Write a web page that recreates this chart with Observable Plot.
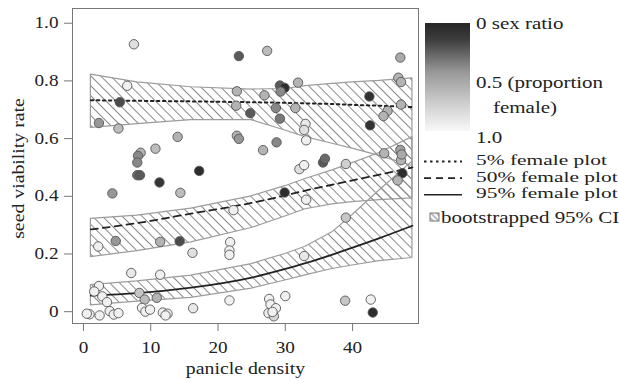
<!DOCTYPE html>
<html><head><meta charset="utf-8">
<script src="https://cdn.jsdelivr.net/npm/d3@7"></script>
<script src="https://cdn.jsdelivr.net/npm/@observablehq/plot@0.6"></script>
<style>
body{margin:0;background:#fff;}
#wrap{position:relative;width:619px;height:383px;overflow:hidden;background:#fff;}
#legend{position:absolute;left:0;top:0;pointer-events:none;}
</style></head><body><div id="wrap"></div>
<script>
// ---- data ----
const density = [7.5,23.1,27.3,47.1,6.5,5.4,2.3,5.2,22.8,22.7,24.8,26.9,29.2,29.9,29.3,28.6,29.2,31.9,31.5,33.0,32.8,33.1,42.5,42.6,45.2,44.6,46.8,47.2,47.2,22.8,23.1,14.0,10.7,8.5,8.1,8.0,8.0,8.4,17.2,11.3,4.3,14.4,26.7,28.7,32.1,32.8,33.1,29.9,35.6,35.9,39.0,44.7,47.1,47.2,47.4,46.7,47.3,2.2,4.8,11.4,14.3,16.2,22.3,21.8,21.7,21.7,32.8,39.0,7.1,11.4,2.3,1.6,2.8,3.5,3.9,0.9,2.4,4.5,5.2,8.3,9.1,8.7,9.2,9.9,10.9,11.8,12.5,12.2,16.3,21.7,27.6,27.8,27.5,28.3,28.6,30.0,38.9,42.7,43.0,0.5,28.1];
const viability = [0.927,0.886,0.904,0.881,0.783,0.726,0.654,0.635,0.764,0.714,0.688,0.750,0.784,0.776,0.763,0.706,0.669,0.794,0.706,0.651,0.630,0.594,0.746,0.646,0.696,0.678,0.811,0.796,0.718,0.610,0.599,0.606,0.565,0.551,0.540,0.517,0.473,0.473,0.488,0.448,0.410,0.412,0.560,0.587,0.494,0.508,0.388,0.413,0.517,0.530,0.512,0.549,0.561,0.525,0.480,0.455,0.545,0.226,0.245,0.242,0.244,0.204,0.352,0.241,0.212,0.197,0.193,0.326,0.134,0.128,0.089,0.070,0.053,0.033,0.002,-0.009,-0.013,-0.010,-0.005,0.065,0.042,0.013,0.000,0.007,0.048,-0.003,-0.007,-0.013,0.012,0.039,0.044,0.025,-0.005,-0.016,0.012,0.054,0.038,0.042,-0.003,-0.007,-0.001];
const femaleShare = [0.85,0.25,0.65,0.55,0.95,0.2,0.45,0.65,0.6,0.6,0.25,0.6,0.25,0.05,0.4,0.4,0.35,0.6,0.6,0.9,0.85,0.95,0.08,0.08,0.6,0.6,0.6,0.6,0.6,0.6,0.45,0.6,0.65,0.6,0.4,0.4,0.3,0.25,0.05,0.1,0.45,0.65,0.6,0.4,0.85,0.95,0.95,0.05,0.25,0.3,0.75,0.6,0.5,0.6,0.05,0.6,0.55,0.95,0.45,0.6,0.2,0.85,0.95,0.95,0.95,0.95,0.9,0.7,0.9,0.95,0.95,0.95,0.95,0.95,0.95,0.95,0.95,0.95,0.95,0.7,0.65,0.95,0.95,0.95,0.6,0.95,0.95,0.95,0.9,0.95,0.95,0.95,0.95,0.8,0.95,0.95,0.7,0.95,0.05,0.95,0.95];

const fitX   = [1.1, 8, 16, 25, 30, 33, 37, 40, 44, 48.9];
const fit5   = [0.733,0.731,0.729,0.726,0.724,0.722,0.720,0.717,0.714,0.709];
const fit50  = [0.285,0.307,0.340,0.377,0.403,0.420,0.440,0.455,0.475,0.500];
const fit95  = [0.056,0.064,0.083,0.118,0.148,0.168,0.198,0.222,0.255,0.298];
const ci5Lo  = [0.637,0.650,0.664,0.664,0.628,0.605,0.582,0.565,0.540,0.505];
const ci5Hi  = [0.822,0.795,0.778,0.770,0.772,0.782,0.790,0.795,0.800,0.809];
const ci50Lo = [0.189,0.210,0.240,0.290,0.330,0.355,0.372,0.380,0.387,0.393];
const ci50Hi = [0.322,0.333,0.357,0.400,0.435,0.460,0.490,0.515,0.550,0.605];
const ci95Lo = [0.022,0.035,0.048,0.080,0.108,0.126,0.148,0.160,0.175,0.186];
const ci95Hi = [0.092,0.105,0.125,0.165,0.200,0.225,0.275,0.335,0.420,0.520];

const xTicks = [0, 10, 20, 30, 40];
const yTicks = [0, 0.2, 0.4, 0.6, 0.8, 1.0];
const colorStops  = [0, 0.15, 0.45, 0.75, 1];
const colorValues = ["#262626", "#3c3c3c", "#979797", "#cfcfcf", "#f8f8f8"];
const lineLegend = ["5% female plot", "50% female plot", "95% female plot"];
const lineDashes = ["2.5,3.5", "7,5", null];

// ---- tables ----
const pts = density.map((x, i) => ({x, y: viability[i], share: femaleShare[i]}));
const fits = fitX.map((x, i) => ({x, f5: fit5[i], f50: fit50[i], f95: fit95[i],
  lo5: ci5Lo[i], hi5: ci5Hi[i], lo50: ci50Lo[i], hi50: ci50Hi[i], lo95: ci95Lo[i], hi95: ci95Hi[i]}));

const FONT = "'Liberation Serif', 'Times New Roman', serif";
const band = (lo, hi) => Plot.areaY(fits, {x: "x", y1: lo, y2: hi, fill: "url(#hatch)", stroke: "#9c9c9c", strokeWidth: 1.2});

const plot = Plot.plot({
  width: 619, height: 383,
  marginLeft: 72, marginRight: 201, marginTop: 8, marginBottom: 60,
  style: {fontFamily: FONT, fontSize: "16px", color: "#222", background: "#fff", overflow: "visible"},
  x: {domain: [-1.63, 49.8], ticks: xTicks, tickSize: 8, tickPadding: 10, label: null},
  y: {domain: [-0.041, 1.051], ticks: yTicks, tickSize: 8, tickPadding: 6, label: null,
      tickFormat: d => d === 0 ? "0" : d.toFixed(1)},
  color: {type: "linear", domain: colorStops, range: colorValues},
  marks: [
    band("lo5", "hi5"),
    band("lo50", "hi50"),
    band("lo95", "hi95"),
    Plot.line(fits, {x: "x", y: "f5", stroke: "#222", strokeWidth: 2, strokeDasharray: lineDashes[0], curve: "monotone-x"}),
    Plot.line(fits, {x: "x", y: "f50", stroke: "#222", strokeWidth: 1.8, strokeDasharray: lineDashes[1], curve: "monotone-x"}),
    Plot.line(fits, {x: "x", y: "f95", stroke: "#222", strokeWidth: 1.8, curve: "monotone-x"}),
    Plot.dot(pts, {x: "x", y: "y", r: 4.7, fill: "share", stroke: "#555", strokeWidth: 0.9}),
    Plot.frame({stroke: "#777"}),
    Plot.text(["panicle density"], {text: d => d, frameAnchor: "bottom", lineAnchor: "middle", dy: 45, fontSize: 16.5}),
    Plot.text(["seed viability rate"], {text: d => d, frameAnchor: "left", rotate: -90, lineAnchor: "middle", textAnchor: "middle", dx: -54, dy: 2.5, fontSize: 16.5})
  ]
});

const svg = plot.tagName.toLowerCase() === "svg" ? plot : plot.querySelector("svg");
d3.select(svg).insert("defs", ":first-child").html(
  `<pattern id="hatch" patternUnits="userSpaceOnUse" width="7" height="7" patternTransform="rotate(-45)">
     <line x1="3.5" y1="-1" x2="3.5" y2="8" stroke="#8a8a8a" stroke-width="1"/>
   </pattern>`);
// widen serif glyphs like the reference
svg.querySelectorAll("text").forEach(t => {
  const tr = t.getAttribute("transform") || "";
  t.setAttribute("transform", tr + " scale(1.2,1)");
});
d3.select(svg).selectAll("[aria-label$='tick'] path, g[aria-label='x-axis'] path, g[aria-label='y-axis'] path").attr("stroke", "#777");
document.getElementById("wrap").appendChild(plot);

// ---- legend ----
const lg = d3.select("#wrap").append("svg").attr("id", "legend").attr("width", 619).attr("height", 383)
  .style("font-family", FONT).style("font-size", "17.5px").style("fill", "#222");
const defs = lg.append("defs");
const grad = defs.append("linearGradient").attr("id", "grad").attr("x1", 0).attr("y1", 0).attr("x2", 0).attr("y2", 1);
colorStops.forEach((s, i) => grad.append("stop").attr("offset", s).attr("stop-color", colorValues[i]));
defs.html(defs.html() + `<pattern id="hatch2" patternUnits="userSpaceOnUse" width="4" height="4" patternTransform="rotate(-45)">
  <line x1="2" y1="-1" x2="2" y2="5" stroke="#777" stroke-width="1"/></pattern>`);
lg.append("rect").attr("x", 425).attr("y", 23).attr("width", 45).attr("height", 108).attr("fill", "url(#grad)");
const txt = (s, x, y, size, sx) => lg.append("text")
  .attr("transform", `translate(${x},${y}) scale(${sx || 1.2},1)`)
  .attr("dy", "0.35em").style("font-size", (size || 17.5) + "px").text(s);
txt("0 sex ratio", 476, 23);
txt("0.5 (proportion", 476, 82);
txt("female)", 493, 107);
txt("1.0", 476, 137);
lineLegend.forEach((s, i) => {
  const y = 160 + i * 16.6;
  lg.append("line").attr("x1", 424).attr("x2", 462).attr("y1", y + 1.5).attr("y2", y + 1.5)
    .attr("stroke", "#222").attr("stroke-width", i === 0 ? 1.8 : 1.6)
    .attr("stroke-dasharray", lineDashes[i]);
  txt(s, 476, y, 15, 1.43);
});
lg.append("rect").attr("x", 430).attr("y", 213).attr("width", 9).attr("height", 8)
  .attr("fill", "url(#hatch2)").attr("stroke", "#777").attr("stroke-width", 1);
txt("bootstrapped 95% CI", 441, 217);
</script></body></html>
